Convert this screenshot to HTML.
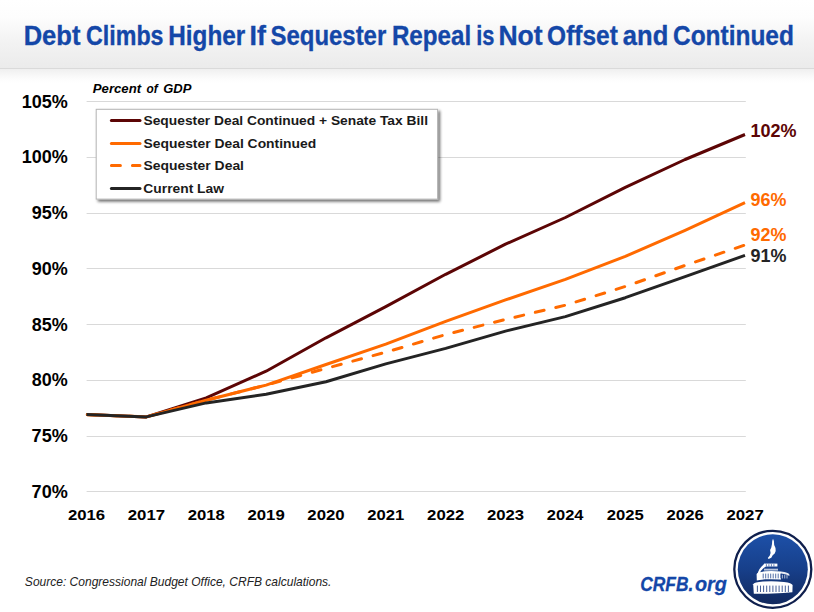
<!DOCTYPE html>
<html><head><meta charset="utf-8">
<style>
html,body{margin:0;padding:0;background:#fff;}
body{width:814px;height:612px;overflow:hidden;position:relative;font-family:"Liberation Sans",sans-serif;}
#hdr{position:absolute;left:0;top:0;width:814px;height:68px;background:linear-gradient(to bottom,#ffffff 0%,#fdfdfd 25%,#f3f3f3 60%,#ebebeb 100%);border-bottom:1px solid #dadada;}
#hsh{position:absolute;left:0;top:69px;width:814px;height:14px;background:linear-gradient(to bottom,#efefef 0%,#f6f6f6 35%,#fcfcfc 70%,#ffffff 100%);}
svg{position:absolute;left:0;top:0;}
text{font-family:"Liberation Sans",sans-serif;}
</style></head><body>
<div id="hdr"></div><div id="hsh"></div>
<svg width="814" height="612" viewBox="0 0 814 612">
<defs>
<linearGradient id="lg" x1="0" y1="0" x2="0" y2="1"><stop offset="0" stop-color="#1d50a8"/><stop offset="0.5" stop-color="#173f8a"/><stop offset="1" stop-color="#12295e"/></linearGradient>
<filter id="sh" x="-5%" y="-10%" width="112%" height="125%"><feGaussianBlur in="SourceAlpha" stdDeviation="1.8"/><feOffset dx="2.2" dy="2.2"/><feComponentTransfer><feFuncA type="linear" slope="0.58"/></feComponentTransfer><feMerge><feMergeNode/><feMergeNode in="SourceGraphic"/></feMerge></filter>
</defs>
<g font-size="27.9" font-weight="bold" fill="#1447a8" stroke="#1447a8" stroke-width="0.35">
<text x="23.69" y="44.55" textLength="56.72" lengthAdjust="spacingAndGlyphs">Debt</text>
<text x="86.05" y="44.55" textLength="77.51" lengthAdjust="spacingAndGlyphs">Climbs</text>
<text x="168.27" y="44.55" textLength="76.99" lengthAdjust="spacingAndGlyphs">Higher</text>
<text x="249.61" y="44.55" textLength="16.34" lengthAdjust="spacingAndGlyphs">If</text>
<text x="270.51" y="44.55" textLength="115.75" lengthAdjust="spacingAndGlyphs">Sequester</text>
<text x="391.88" y="44.55" textLength="79.23" lengthAdjust="spacingAndGlyphs">Repeal</text>
<text x="476.17" y="44.55" textLength="18.22" lengthAdjust="spacingAndGlyphs">is</text>
<text x="498.43" y="44.55" textLength="44.20" lengthAdjust="spacingAndGlyphs">Not</text>
<text x="547.10" y="44.55" textLength="70.70" lengthAdjust="spacingAndGlyphs">Offset</text>
<text x="622.85" y="44.55" textLength="45.43" lengthAdjust="spacingAndGlyphs">and</text>
<text x="673.00" y="44.55" textLength="120.92" lengthAdjust="spacingAndGlyphs">Continued</text>
</g>
<g stroke="#d9d9d9" stroke-width="1">
<line x1="86.6" x2="745.8" y1="491.5" y2="491.5"/>
<line x1="86.6" x2="745.8" y1="436.5" y2="436.5"/>
<line x1="86.6" x2="745.8" y1="380.5" y2="380.5"/>
<line x1="86.6" x2="745.8" y1="324.5" y2="324.5"/>
<line x1="86.6" x2="745.8" y1="268.5" y2="268.5"/>
<line x1="86.6" x2="745.8" y1="213.5" y2="213.5"/>
<line x1="86.6" x2="745.8" y1="157.5" y2="157.5"/>
<line x1="86.6" x2="745.8" y1="101.5" y2="101.5"/>
</g>
<g font-size="18.5" font-weight="bold" fill="#000">
<text x="31.62" y="497.73" textLength="36.15" lengthAdjust="spacingAndGlyphs">70%</text>
<text x="31.62" y="442.02" textLength="36.15" lengthAdjust="spacingAndGlyphs">75%</text>
<text x="31.83" y="386.31" textLength="35.94" lengthAdjust="spacingAndGlyphs">80%</text>
<text x="31.83" y="330.60" textLength="35.94" lengthAdjust="spacingAndGlyphs">85%</text>
<text x="31.78" y="274.89" textLength="36.00" lengthAdjust="spacingAndGlyphs">90%</text>
<text x="31.78" y="219.18" textLength="36.00" lengthAdjust="spacingAndGlyphs">95%</text>
<text x="21.66" y="163.47" textLength="46.11" lengthAdjust="spacingAndGlyphs">100%</text>
<text x="21.66" y="107.76" textLength="46.11" lengthAdjust="spacingAndGlyphs">105%</text>
</g>
<g font-size="15.2" font-weight="bold" fill="#000">
<text x="67.92" y="520.00" textLength="37.18" lengthAdjust="spacingAndGlyphs">2016</text>
<text x="127.78" y="520.00" textLength="37.32" lengthAdjust="spacingAndGlyphs">2017</text>
<text x="187.65" y="520.00" textLength="37.09" lengthAdjust="spacingAndGlyphs">2018</text>
<text x="247.51" y="520.00" textLength="37.20" lengthAdjust="spacingAndGlyphs">2019</text>
<text x="307.37" y="520.00" textLength="37.27" lengthAdjust="spacingAndGlyphs">2020</text>
<text x="367.24" y="520.00" textLength="37.04" lengthAdjust="spacingAndGlyphs">2021</text>
<text x="427.10" y="520.00" textLength="37.25" lengthAdjust="spacingAndGlyphs">2022</text>
<text x="486.97" y="520.00" textLength="37.18" lengthAdjust="spacingAndGlyphs">2023</text>
<text x="546.84" y="520.00" textLength="36.66" lengthAdjust="spacingAndGlyphs">2024</text>
<text x="606.70" y="520.00" textLength="37.04" lengthAdjust="spacingAndGlyphs">2025</text>
<text x="666.56" y="520.00" textLength="37.18" lengthAdjust="spacingAndGlyphs">2026</text>
<text x="726.42" y="520.00" textLength="37.32" lengthAdjust="spacingAndGlyphs">2027</text>
</g>
<g font-size="13.6" font-weight="bold" font-style="italic" fill="#000">
<text x="92.87" y="92.60" textLength="48.18" lengthAdjust="spacingAndGlyphs">Percent</text>
<text x="146.54" y="92.60" textLength="11.18" lengthAdjust="spacingAndGlyphs">of</text>
<text x="163.27" y="92.60" textLength="28.11" lengthAdjust="spacingAndGlyphs">GDP</text>
</g>
<g fill="none" stroke-width="3" stroke-linejoin="round" stroke-linecap="butt">
<polyline stroke="#5c0505" points="86.5,414.6 146.4,416.9 206.2,397.9 266.1,371.2 326.0,337.8 385.8,306.6 445.7,274.3 505.5,244.2 565.4,217.5 625.3,187.4 685.1,159.5 745.0,134.5"/>
<polyline stroke="#ff6a00" points="86.5,414.6 146.4,416.9 206.2,400.2 266.1,385.1 326.0,364.5 385.8,344.2 445.7,321.3 505.5,299.9 565.4,279.3 625.3,256.4 685.1,230.3 745.0,202.6"/>
<polyline stroke="#ff6a00" stroke-dasharray="9 12" stroke-dashoffset="20.25" stroke-linecap="round" points="86.5,414.6 146.4,416.9 206.2,400.2 266.1,385.1 326.0,368.4 385.8,352.2 445.7,334.6 505.5,319.4 565.4,305.2 625.3,286.5 685.1,265.4 745.0,245.0"/>
<polyline stroke="#242424" points="86.5,414.6 146.4,416.9 206.2,402.9 266.1,394.2 326.0,381.8 385.8,363.9 445.7,348.4 505.5,331.1 565.4,316.6 625.3,297.7 685.1,276.7 745.0,255.4"/>
</g>
<rect x="96.2" y="109.3" width="341.4" height="89.8" fill="#fff" stroke="#b5b5b5" stroke-width="1" filter="url(#sh)"/>
<g stroke-width="3" stroke-linecap="round" fill="none">
<line x1="111.4" x2="140.0" y1="120.6" y2="120.6" stroke="#5c0505"/>
<line x1="111.4" x2="140.0" y1="143.4" y2="143.4" stroke="#ff6a00"/>
<line x1="111.4" x2="140.0" y1="165.6" y2="165.6" stroke="#ff6a00" stroke-dasharray="9 12"/>
<line x1="111.4" x2="140.0" y1="188.4" y2="188.4" stroke="#242424"/>
</g>
<g font-size="13.7" font-weight="bold" fill="#1a1a1a">
<text x="143.50" y="125.00" textLength="284.47" lengthAdjust="spacingAndGlyphs">Sequester Deal Continued + Senate Tax Bill</text>
<text x="143.50" y="147.50" textLength="172.71" lengthAdjust="spacingAndGlyphs">Sequester Deal Continued</text>
<text x="143.50" y="169.80" textLength="100.49" lengthAdjust="spacingAndGlyphs">Sequester Deal</text>
<text x="143.33" y="192.80" textLength="80.64" lengthAdjust="spacingAndGlyphs">Current Law</text>
</g>
<g font-size="18.1" font-weight="bold">
<text x="750.46" y="136.60" textLength="46.11" lengthAdjust="spacingAndGlyphs" fill="#5c0505">102%</text>
<text x="750.58" y="205.70" textLength="35.89" lengthAdjust="spacingAndGlyphs" fill="#ff6a00">96%</text>
<text x="750.58" y="240.90" textLength="35.89" lengthAdjust="spacingAndGlyphs" fill="#ff6a00">92%</text>
<text x="750.58" y="262.00" textLength="35.89" lengthAdjust="spacingAndGlyphs" fill="#242424">91%</text>
</g>
<g font-size="12.2" font-style="italic" fill="#222">
<text x="24.86" y="585.70" textLength="306.61" lengthAdjust="spacingAndGlyphs">Source: Congressional Budget Office, CRFB calculations.</text>
</g>
<g font-size="20.9" font-weight="bold" font-style="italic" fill="#1447a8" stroke="#1447a8" stroke-width="0.3">
<text x="640.25" y="590.80" textLength="53.14" lengthAdjust="spacingAndGlyphs">CRFB.</text>
<text x="694.99" y="590.80" textLength="31.95" lengthAdjust="spacingAndGlyphs">org</text>
</g>
<g id="logo">
<circle cx="772.8" cy="569.3" r="38.5" fill="#fff" stroke="#0f1f4d" stroke-width="2.3"/>
<circle cx="772.8" cy="569.3" r="35" fill="url(#lg)"/>
<g fill="#fff" stroke="none">
<path d="M773,538.8 L773.9,541 L774.2,545 L775.5,548 L775.7,551 L774.7,553.6 L772.7,555.3 L771.3,557.7 L768.6,559 L767.8,557.9 L769.8,555.6 L770.6,553 L770.1,550 L771.3,547.5 L772,544 L772.2,541 Z"/>
<rect x="764" y="563.6" width="13.4" height="2.9"/>
<rect x="764" y="568.7" width="14" height="1.9" opacity="0.7"/>
<path d="M764.6,563.8 Q759.5,567 757,574.8 L759.2,575 Q761,569 765.8,566.4 Z"/>
<path d="M756.6,574 Q757.5,572 765,571.3 Q773,570.7 781,571.6 L781,579.6 Q773,578.9 765,579.3 Q759,579.8 756.8,580.6 Z"/>
<path d="M781,571.6 Q788.6,572.6 789.4,574.6 L789.4,576 Q787,574.2 781,573.4 Z" opacity="0.9"/>
<path d="M753.2,584.2 Q754,582.4 763,581.5 Q773,580.7 784,581.9 Q792,583 792.6,585 L792.4,592.2 Q784,593 773,593.5 Q762,593.9 753.8,593.7 Z"/>
</g>
<g stroke="#1c4695" stroke-width="0.7">
<line x1="766.4" x2="766.4" y1="564.2" y2="566.5"/>
<line x1="768.9" x2="768.9" y1="564.2" y2="566.5"/>
<line x1="771.4" x2="771.4" y1="564.2" y2="566.5"/>
<line x1="773.9" x2="773.9" y1="564.2" y2="566.5"/>
</g>
<g stroke="#1a3f8a" stroke-width="0.75">
<line x1="763.2" x2="763.2" y1="573.6" y2="578.4"/>
<line x1="765.7" x2="765.7" y1="573.6" y2="578.4"/>
<line x1="768.2" x2="768.2" y1="573.6" y2="578.4"/>
<line x1="770.7" x2="770.7" y1="573.6" y2="578.4"/>
<line x1="773.2" x2="773.2" y1="573.6" y2="578.4"/>
<line x1="775.7" x2="775.7" y1="573.6" y2="578.4"/>
<line x1="778.2" x2="778.2" y1="573.6" y2="578.4"/>
<line x1="780.7" x2="780.7" y1="573.6" y2="578.4"/>
</g>
<g stroke="#fff" stroke-width="1.1" opacity="0.6">
<line x1="782.4" x2="782.4" y1="574.8" y2="578.6"/>
<line x1="784.7" x2="784.7" y1="574.8" y2="578.6"/>
<line x1="787.0" x2="787.0" y1="574.8" y2="578.6"/>
</g>
<g stroke="#17357a" stroke-width="0.8">
<line x1="757.4" x2="757.4" y1="585.6" y2="592.0"/>
<line x1="760.5" x2="760.5" y1="585.6" y2="592.0"/>
<line x1="763.6" x2="763.6" y1="585.6" y2="592.0"/>
<line x1="766.7" x2="766.7" y1="585.6" y2="592.0"/>
<line x1="769.8" x2="769.8" y1="585.6" y2="592.0"/>
<line x1="772.9" x2="772.9" y1="585.6" y2="592.0"/>
<line x1="776.0" x2="776.0" y1="585.6" y2="592.0"/>
<line x1="779.1" x2="779.1" y1="585.6" y2="592.0"/>
<line x1="782.2" x2="782.2" y1="585.6" y2="592.0"/>
<line x1="785.3" x2="785.3" y1="585.6" y2="592.0"/>
<line x1="788.4" x2="788.4" y1="585.6" y2="592.0"/>
</g>
</g>
</svg>
</body></html>
